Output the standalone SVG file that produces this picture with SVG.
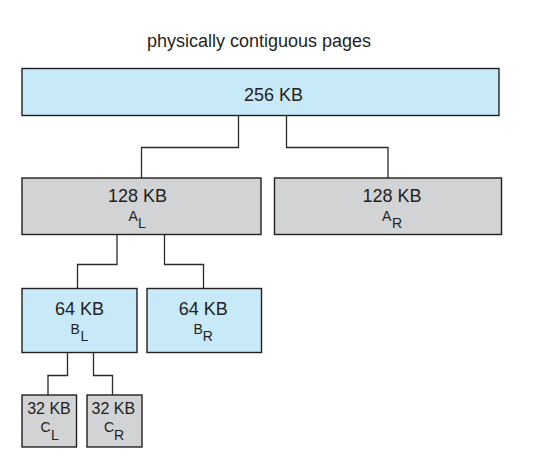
<svg xmlns="http://www.w3.org/2000/svg" width="535" height="471" viewBox="0 0 535 471">
<style>
text{font-family:"Liberation Sans",Arial,sans-serif;fill:#231f20}
.t{font-size:18px;text-anchor:middle}
.s{font-size:16px;text-anchor:middle}
.sub{font-size:14px}
.blue{fill:#c7e9f8;stroke:#231f20;stroke-width:1.4}
.gray{fill:#d2d3d5;stroke:#231f20;stroke-width:1.4}
.c{fill:none;stroke:#2b2b2b;stroke-width:1.3}
</style>
<rect width="535" height="471" fill="#fff"/>
<text class="t" x="259" y="47">physically contiguous pages</text>
<g id="connectors">
<polyline class="c" points="238.5,116 238.5,147.5 141.5,147.5 141.5,178"/>
<polyline class="c" points="286.5,116 286.5,147.5 388,147.5 388,178"/>
<polyline class="c" points="117,234.5 117,264.5 77.5,264.5 77.5,288.5"/>
<polyline class="c" points="164.5,234.5 164.5,264.5 203.5,264.5 203.5,288.5"/>
<polyline class="c" points="67.5,353 67.5,375.5 48,375.5 48,395"/>
<polyline class="c" points="93.5,353 93.5,375.5 112.5,375.5 112.5,395"/>
</g>
<g id="n256">
<rect class="blue" x="22" y="68.5" width="477" height="47"/>
<text class="t" x="273.5" y="101">256 KB</text>
</g>
<g id="nAL">
<rect class="gray" x="22" y="178" width="239" height="56.5"/>
<text class="t" x="137.5" y="201.5">128 KB</text>
<text class="sub" x="128.5" y="221">A</text>
<text class="sub" x="138" y="228">L</text>
</g>
<g id="nAR">
<rect class="gray" x="274.5" y="178" width="227" height="56.5"/>
<text class="t" x="392" y="201.5">128 KB</text>
<text class="sub" x="382" y="221">A</text>
<text class="sub" x="392" y="228">R</text>
</g>
<g id="nBL">
<rect class="blue" x="22" y="288.5" width="115" height="64"/>
<text class="t" x="79.5" y="315">64 KB</text>
<text class="sub" x="70.5" y="333.5">B</text>
<text class="sub" x="80.5" y="341">L</text>
</g>
<g id="nBR">
<rect class="blue" x="147" y="288.5" width="114.5" height="64"/>
<text class="t" x="203.2" y="315">64 KB</text>
<text class="sub" x="193.5" y="333.5">B</text>
<text class="sub" x="202.7" y="341">R</text>
</g>
<g id="nCL">
<rect class="gray" x="22" y="395" width="54.5" height="52"/>
<text class="s" x="49" y="414">32 KB</text>
<text class="sub" x="40.5" y="431.5">C</text>
<text class="sub" x="51" y="440">L</text>
</g>
<g id="nCR">
<rect class="gray" x="87" y="395" width="55" height="52"/>
<text class="s" x="113.3" y="414">32 KB</text>
<text class="sub" x="104" y="431.5">C</text>
<text class="sub" x="114" y="440">R</text>
</g>
</svg>
